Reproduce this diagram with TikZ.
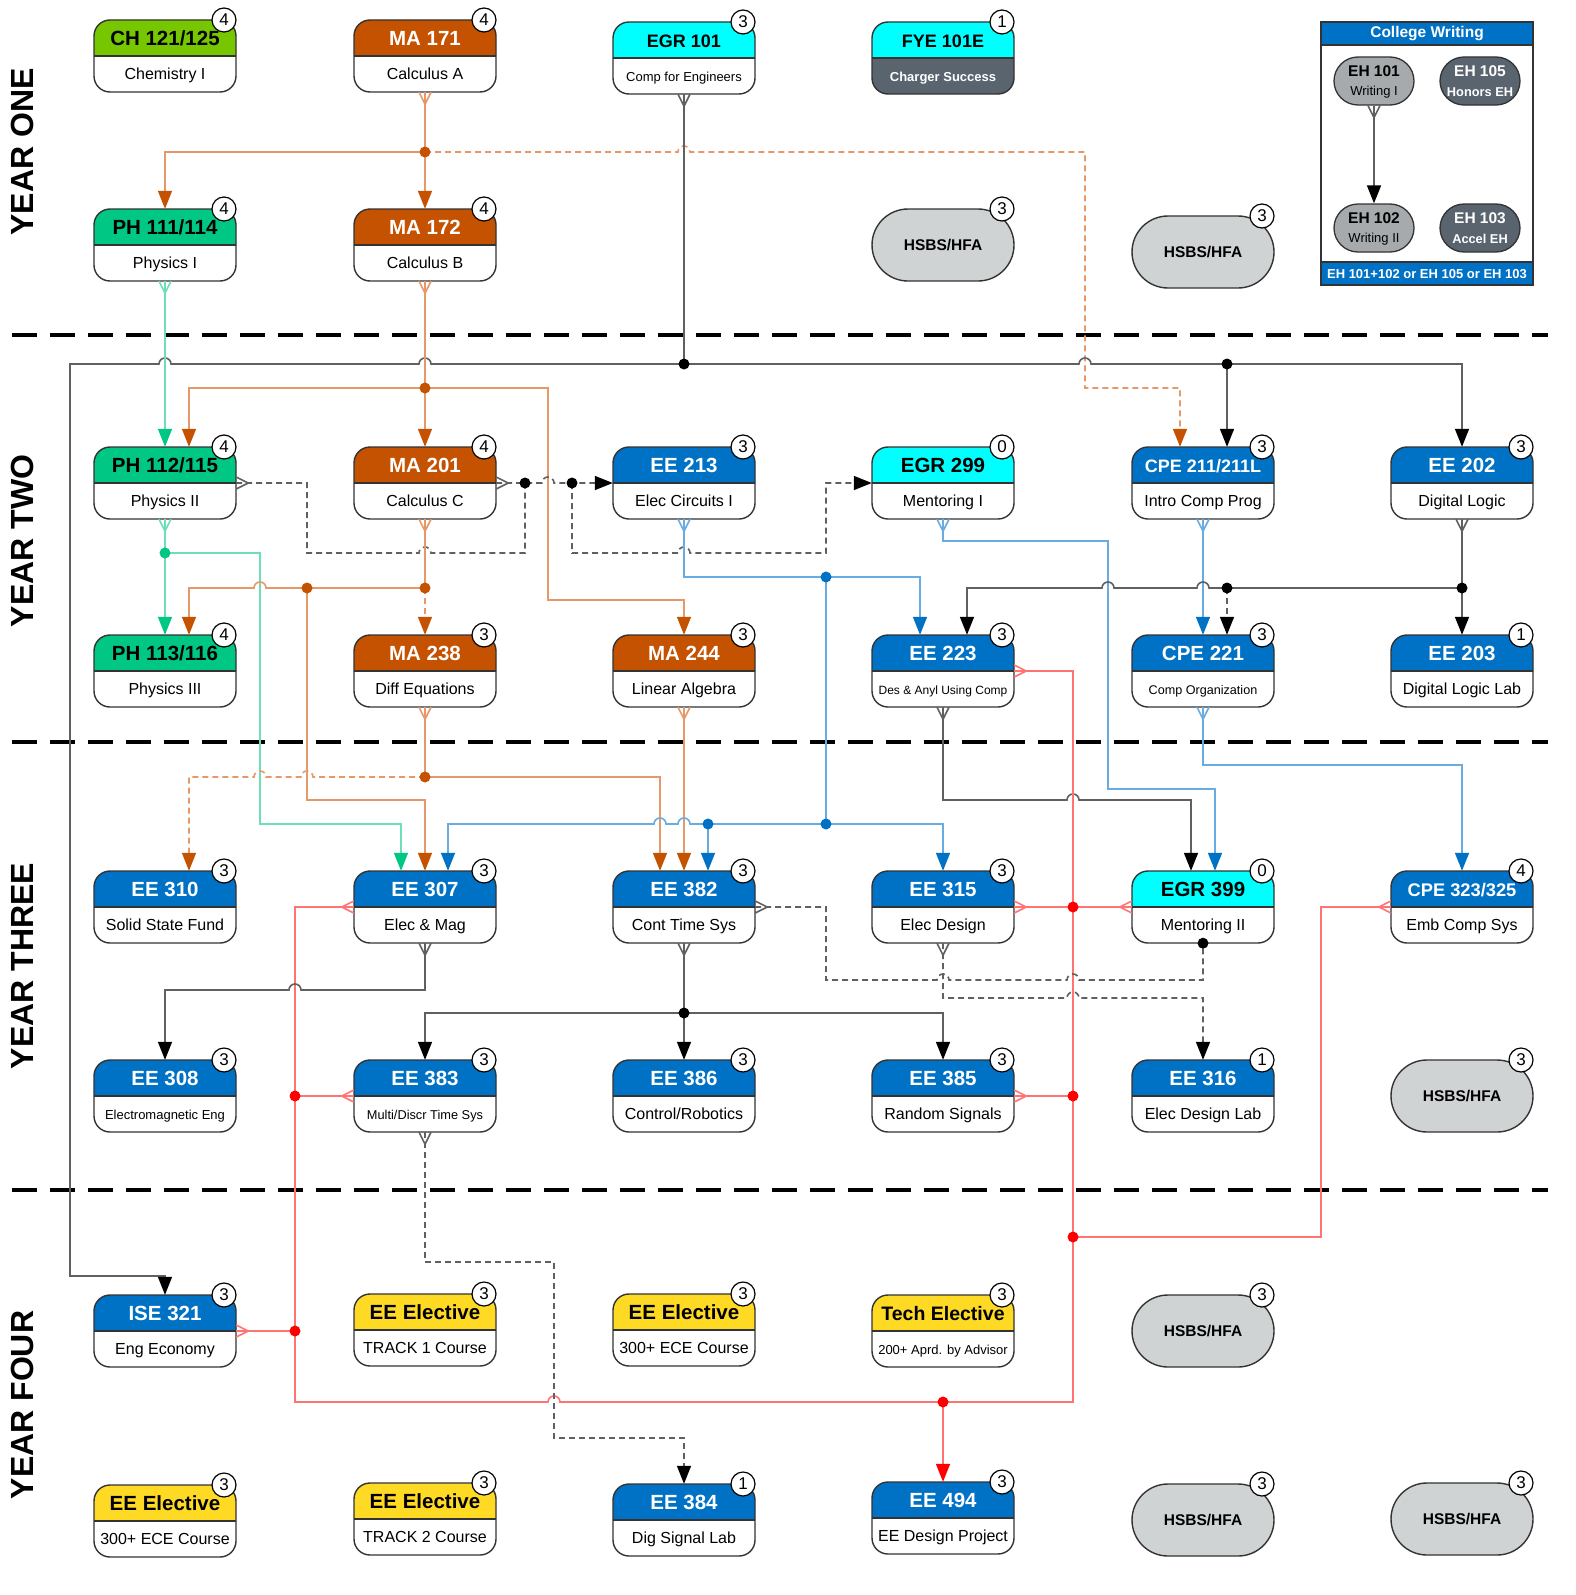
\documentclass[tikz,border=0pt]{standalone}
\usepackage{fontspec}
\setmainfont{Liberation Sans}
\usetikzlibrary{arrows.meta,shapes.misc}
\definecolor{chgreen}{RGB}{118,199,0}
\definecolor{phgreen}{RGB}{0,199,131}
\definecolor{maorange}{RGB}{197,82,0}
\definecolor{egrcyan}{RGB}{0,255,255}
\definecolor{eeblue}{RGB}{0,114,198}
\definecolor{elyellow}{RGB}{255,218,36}
\definecolor{fyegray}{RGB}{89,100,110}
\definecolor{hsbsgray}{RGB}{208,211,212}
\definecolor{ehgray}{RGB}{166,170,173}
\definecolor{orlight}{RGB}{230,152,105}
\definecolor{grlight}{RGB}{110,222,180}
\definecolor{bllight}{RGB}{105,172,226}
\definecolor{glight}{RGB}{96,96,96}
\definecolor{rlight}{RGB}{255,115,115}
\definecolor{rdot}{RGB}{255,0,0}
\tikzset{
  boxline/.style={draw=black!80, line width=1.4pt},
  boxanchor/.style={inner sep=0pt, minimum width=142pt, minimum height=72pt},
  titletext/.style={inner sep=0pt, text height=14.5pt, text depth=0pt, font=\bfseries\fontsize{20.5}{22}\selectfont},
  subtext/.style={inner sep=0pt, text height=11.5pt, text depth=0pt, font=\fontsize{16}{18}\selectfont},
  badge/.style={circle, draw=black, fill=white, line width=1.2pt, minimum size=24pt, inner sep=0pt, font=\fontsize{17}{17}\selectfont},
  divline/.style={draw=black, line width=3.5pt, dash pattern=on 25pt off 13pt},
  yearlabel/.style={rotate=90, font=\bfseries\fontsize{32}{36}\selectfont},
  orl/.style={draw=orlight, line width=1.6pt},
  grl/.style={draw=grlight, line width=1.6pt},
  bll/.style={draw=bllight, line width=1.6pt},
  gyl/.style={draw=glight, line width=1.6pt},
  rdl/.style={draw=rlight, line width=1.6pt},
  dsh/.style={dash pattern=on 6pt off 4pt},
  tor/.style={-{Triangle[length=18pt,width=14pt,color=maorange]}},
  tgr/.style={-{Triangle[length=18pt,width=14pt,color=phgreen]}},
  tbl/.style={-{Triangle[length=18pt,width=14pt,color=eeblue]}},
  tbk/.style={-{Triangle[length=18pt,width=14pt,color=black]}},
  trd/.style={-{Triangle[length=18pt,width=14pt,color=rdot]}},
  hsbsbox/.style={rounded rectangle, draw=black!80, line width=1.4pt, fill=hsbsgray, minimum width=142pt, minimum height=72pt, inner sep=0pt, font=\bfseries\fontsize{15.5}{17}\selectfont},
  ehbox/.style={rounded rectangle, draw=black!80, line width=1.3pt, minimum width=80pt, minimum height=48pt, inner sep=0pt},
}
\newcommand\hp{arc[start angle=180,end angle=0,radius=6pt]}
\newcommand\hpl{arc[start angle=0,end angle=180,radius=6pt]}
\newcommand\markd[2]{\draw[#2] (#1) ++(-6,0) -- ++(6,12) -- ++(6,-12);}
\newcommand\markr[2]{\draw[#2] (#1) ++(0,-6) -- ++(12,6) -- ++(-12,6);}
\newcommand\markl[2]{\draw[#2] (#1) ++(0,-6) -- ++(-12,6) -- ++(12,6);}
% #1 name #2 x #3 y #4 header #5 title colour #6 title #7 subtitle #8 credits #9 body
\newcommand\course[9]{%
  \begin{scope}
    \clip (#2-80,#3-45) rectangle (#2+80,#3);
    \fill[#4, rounded corners=16pt] (#2-71,#3-36) rectangle (#2+71,#3+36);
  \end{scope}
  \begin{scope}
    \clip (#2-80,#3) rectangle (#2+80,#3+45);
    \fill[#9, rounded corners=16pt] (#2-71,#3-36) rectangle (#2+71,#3+36);
  \end{scope}
  \draw[boxline, rounded corners=16pt] (#2-71,#3-36) rectangle (#2+71,#3+36);
  \draw[boxline] (#2-71,#3) -- (#2+71,#3);
  \node[boxanchor] (#1) at (#2,#3) {};
  \node[titletext, text=#5] at (#2,#3-18) {#6};
  \node[subtext] at (#2,#3+18) {#7};
  \node[badge] at (#2+59,#3-36) {#8};
}
\newcommand\hsbs[4]{%
  \node[hsbsbox] (#1) at (#2,#3) {HSBS/HFA};
  \node[badge] at (#2+59,#3-36) {#4};
}
\begin{document}
\begin{tikzpicture}[x=1pt,y=-1pt]
\useasboundingbox (0,0) rectangle (1575,1595);
\fill[white] (0,0) rectangle (1575,1595);
% dividers
\draw[divline] (12,335) -- (1548,335);
\draw[divline] (12,742) -- (1548,742);
\draw[divline] (12,1190) -- (1548,1190);
% year labels
\node[yearlabel] (y1) at (22,152) {YEAR ONE};
\node[yearlabel] (y2) at (22,541) {YEAR TWO};
\node[yearlabel] (y3) at (22,966) {YEAR THREE};
\node[yearlabel] (y4) at (22,1405) {YEAR FOUR};
% ---------- courses ----------
\course{ch121}{165}{56}{chgreen}{black}{CH 121/125}{Chemistry I}{4}{white}
\course{ma171}{425}{56}{maorange}{white}{MA 171}{Calculus A}{4}{white}
\course{egr101}{684}{58}{egrcyan}{black}{\fontsize{18}{20}\selectfont EGR 101}{\fontsize{13}{15}\selectfont Comp for Engineers}{3}{white}
\course{fye101}{943}{58}{egrcyan}{black}{\fontsize{18}{20}\selectfont FYE 101E}{\color{white}\bfseries\fontsize{13}{15}\selectfont Charger Success}{1}{fyegray}
\course{ph111}{165}{245}{phgreen}{black}{PH 111/114}{Physics I}{4}{white}
\course{ma172}{425}{245}{maorange}{white}{MA 172}{Calculus B}{4}{white}
\hsbs{hs1}{943}{245}{3}
\hsbs{hs2}{1203}{252}{3}
\course{ph112}{165}{483}{phgreen}{black}{PH 112/115}{Physics II}{4}{white}
\course{ma201}{425}{483}{maorange}{white}{MA 201}{Calculus C}{4}{white}
\course{ee213}{684}{483}{eeblue}{white}{EE 213}{Elec Circuits I}{3}{white}
\course{egr299}{943}{483}{egrcyan}{black}{EGR 299}{Mentoring I}{0}{white}
\course{cpe211}{1203}{483}{eeblue}{white}{\fontsize{18}{20}\selectfont CPE 211/211L}{Intro Comp Prog}{3}{white}
\course{ee202}{1462}{483}{eeblue}{white}{EE 202}{Digital Logic}{3}{white}
\course{ph113}{165}{671}{phgreen}{black}{PH 113/116}{Physics III}{4}{white}
\course{ma238}{425}{671}{maorange}{white}{MA 238}{Diff Equations}{3}{white}
\course{ma244}{684}{671}{maorange}{white}{MA 244}{Linear Algebra}{3}{white}
\course{ee223}{943}{671}{eeblue}{white}{EE 223}{\fontsize{12}{14}\selectfont Des \& Anyl Using Comp}{3}{white}
\course{cpe221}{1203}{671}{eeblue}{white}{CPE 221}{\fontsize{12.6}{14}\selectfont Comp Organization}{3}{white}
\course{ee203}{1462}{671}{eeblue}{white}{EE 203}{Digital Logic Lab}{1}{white}
\course{ee310}{165}{907}{eeblue}{white}{EE 310}{Solid State Fund}{3}{white}
\course{ee307}{425}{907}{eeblue}{white}{EE 307}{Elec \& Mag}{3}{white}
\course{ee382}{684}{907}{eeblue}{white}{EE 382}{Cont Time Sys}{3}{white}
\course{ee315}{943}{907}{eeblue}{white}{EE 315}{Elec Design}{3}{white}
\course{egr399}{1203}{907}{egrcyan}{black}{EGR 399}{Mentoring II}{0}{white}
\course{cpe323}{1462}{907}{eeblue}{white}{\fontsize{18.3}{20}\selectfont CPE 323/325}{Emb Comp Sys}{4}{white}
\course{ee308}{165}{1096}{eeblue}{white}{EE 308}{\fontsize{13}{15}\selectfont Electromagnetic Eng}{3}{white}
\course{ee383}{425}{1096}{eeblue}{white}{EE 383}{\fontsize{12.8}{15}\selectfont Multi/Discr Time Sys}{3}{white}
\course{ee386}{684}{1096}{eeblue}{white}{EE 386}{Control/Robotics}{3}{white}
\course{ee385}{943}{1096}{eeblue}{white}{EE 385}{Random Signals}{3}{white}
\course{ee316}{1203}{1096}{eeblue}{white}{EE 316}{Elec Design Lab}{1}{white}
\hsbs{hs3}{1462}{1096}{3}
\course{ise321}{165}{1331}{eeblue}{white}{ISE 321}{Eng Economy}{3}{white}
\course{el1}{425}{1330}{elyellow}{black}{EE Elective}{TRACK 1 Course}{3}{white}
\course{el2}{684}{1330}{elyellow}{black}{EE Elective}{300+ ECE Course}{3}{white}
\course{tech}{943}{1331}{elyellow}{black}{\fontsize{19.5}{21}\selectfont Tech Elective}{\fontsize{13}{15}\selectfont 200+ Aprd. by Advisor}{3}{white}
\hsbs{hs4}{1203}{1331}{3}
\course{el3}{165}{1521}{elyellow}{black}{EE Elective}{300+ ECE Course}{3}{white}
\course{el4}{425}{1519}{elyellow}{black}{EE Elective}{TRACK 2 Course}{3}{white}
\course{ee384}{684}{1520}{eeblue}{white}{EE 384}{Dig Signal Lab}{1}{white}
\course{ee494}{943}{1518}{eeblue}{white}{EE 494}{EE Design Project}{3}{white}
\hsbs{hs5}{1203}{1520}{3}
\hsbs{hs6}{1462}{1519}{3}
% ---------- College Writing ----------
\draw[boxline] (1321,22) rectangle (1533,285);
\fill[eeblue] (1321,22) rectangle (1533,45);
\fill[eeblue] (1321,262) rectangle (1533,285);
\draw[boxline] (1321,22) rectangle (1533,285);
\draw[boxline] (1321,45) -- (1533,45);
\draw[boxline] (1321,262) -- (1533,262);
\node[text=white, font=\bfseries\fontsize{15.5}{17}\selectfont] (cwt) at (1427,34) {College Writing};
\node[text=white, font=\bfseries\fontsize{13}{15}\selectfont] (cwb) at (1427,274) {EH 101+102 or EH 105 or EH 103};
\node[ehbox, fill=ehgray] (eh101) at (1374,81) {};
\node[ehbox, fill=fyegray] (eh105) at (1480,81) {};
\node[ehbox, fill=ehgray] (eh102) at (1374,228) {};
\node[ehbox, fill=fyegray] (eh103) at (1480,228) {};
\node[font=\bfseries\fontsize{15.5}{17}\selectfont] at (1374,71) {EH 101};
\node[font=\fontsize{13}{15}\selectfont] at (1374,92) {Writing I};
\node[font=\bfseries\fontsize{15.5}{17}\selectfont] at (1374,218) {EH 102};
\node[font=\fontsize{13}{15}\selectfont] at (1374,239) {Writing II};
\node[text=white, font=\bfseries\fontsize{15.5}{17}\selectfont] at (1480,71) {EH 105};
\node[text=white, font=\bfseries\fontsize{12.8}{15}\selectfont] at (1480,92) {Honors EH};
\node[text=white, font=\bfseries\fontsize{15.5}{17}\selectfont] at (1480,218) {EH 103};
\node[text=white, font=\bfseries\fontsize{12.8}{15}\selectfont] at (1480,239) {Accel EH};
\markd{eh101.south}{gyl}
\draw[gyl,tbk] (eh101.south) -- (eh102.north);
% ---------- connectors ----------
% MA 171
\markd{ma171.south}{orl}
\draw[orl,tor] (ma171.south) -- (ma172.north);
\draw[orl,tor] (425,152) -- (165,152) -- (ph111.north);
\draw[orl,dsh,tor] (425,152) -- (678,152) \hp -- (1085,152) -- (1085,388) -- (1180,388) -- ([xshift=-23pt]cpe211.north);
% EGR 101 bus
\markd{egr101.south}{gyl}
\draw[gyl] (egr101.south) -- (684,364);
\draw[gyl,tbk] (684,364) -- (1079,364) \hp -- (1462,364) -- (ee202.north);
\draw[gyl,tbk] (684,364) -- (431,364) \hpl -- (171,364) \hpl -- (70,364) -- (70,1276) -- (165,1276) -- (ise321.north);
\draw[gyl,tbk] (1227,364) -- ([xshift=24pt]cpe211.north);
% PH 111
\markd{ph111.south}{grl}
\draw[grl,tgr] (ph111.south) -- (ph112.north);
% MA 172
\markd{ma172.south}{orl}
\draw[orl,tor] (ma172.south) -- (ma201.north);
\draw[orl,tor] (425,388) -- (189,388) -- ([xshift=24pt]ph112.north);
\draw[orl,tor] (425,388) -- (548,388) -- (548,600) -- (684,600) -- (ma244.north);
% coreq dashed PH112 / MA201
\markr{ph112.east}{gyl}
\draw[gyl,dsh] (ph112.east) -- (307,483) -- (307,553) -- (419,553) \hp -- (525,553) -- (525,483);
\markr{ma201.east}{gyl}
\draw[gyl,dsh,tbk] (ma201.east) -- (542,483) \hp -- (ee213.west);
\draw[gyl,dsh,tbk] (572,483) -- (572,553) -- (678,553) \hp -- (826,553) -- (826,483) -- (egr299.west);
% PH 112
\markd{ph112.south}{grl}
\draw[grl,tgr] (ph112.south) -- (ph113.north);
\draw[grl,tgr] (165,553) -- (260,553) -- (260,824) -- (401,824) -- ([xshift=-24pt]ee307.north);
% MA 201
\markd{ma201.south}{orl}
\draw[orl] (ma201.south) -- (425,588);
\draw[orl,dsh,tor] (425,588) -- (ma238.north);
\draw[orl,tor] (425,588) -- (266,588) \hpl -- (189,588) -- ([xshift=24pt]ph113.north);
\draw[orl,tor] (307,588) -- (307,800) -- (425,800) -- (ee307.north);
% MA 238
\markd{ma238.south}{orl}
\draw[orl] (ma238.south) -- (425,777);
\draw[orl,dsh,tor] (425,777) -- (313,777) \hpl -- (266,777) \hpl -- (189,777) -- ([xshift=24pt]ee310.north);
\draw[orl,tor] (425,777) -- (660,777) -- ([xshift=-24pt]ee382.north);
% MA 244
\markd{ma244.south}{orl}
\draw[orl,tor] (ma244.south) -- (ee382.north);
% EE 213
\markd{ee213.south}{bll}
\draw[bll,tbl] (ee213.south) -- (684,577) -- (920,577) -- ([xshift=-23pt]ee223.north);
\draw[bll] (826,577) -- (826,824);
\draw[bll,tbl] (826,824) -- (690,824) \hpl -- (666,824) \hpl -- (448,824) -- ([xshift=23pt]ee307.north);
\draw[bll,tbl] (708,824) -- ([xshift=24pt]ee382.north);
\draw[bll,tbl] (826,824) -- (943,824) -- (ee315.north);
% EGR 299
\markd{egr299.south}{bll}
\draw[bll,tbl] (egr299.south) -- (943,541) -- (1108,541) -- (1108,789) -- (1215,789) -- ([xshift=12pt]egr399.north);
% CPE 211
\markd{cpe211.south}{bll}
\draw[bll,tbl] (cpe211.south) -- (cpe221.north);
% EE 202
\markd{ee202.south}{gyl}
\draw[gyl,tbk] (ee202.south) -- (ee203.north);
\draw[gyl,tbk] (1462,588) -- (1209,588) \hpl -- (1114,588) \hpl -- (967,588) -- ([xshift=24pt]ee223.north);
\draw[gyl,dsh,tbk] (1227,588) -- ([xshift=24pt]cpe221.north);
% EE 223
\markd{ee223.south}{gyl}
\draw[gyl,tbk] (ee223.south) -- (943,800) -- (1067,800) \hp -- (1191,800) -- ([xshift=-12pt]egr399.north);
% CPE 221
\markd{cpe221.south}{bll}
\draw[bll,tbl] (cpe221.south) -- (1203,765) -- (1462,765) -- (cpe323.north);
% red bus
\markr{ee223.east}{rdl}
\draw[rdl] (ee223.east) -- (1073,671) -- (1073,1402) -- (560,1402) \hpl -- (295,1402) -- (295,907) -- (ee307.west);
\markl{ee307.west}{rdl}
\markr{ee315.east}{rdl}
\draw[rdl] (ee315.east) -- (1073,907);
\markl{egr399.west}{rdl}
\draw[rdl] (egr399.west) -- (1073,907);
\markr{ee385.east}{rdl}
\draw[rdl] (ee385.east) -- (1073,1096);
\markl{cpe323.west}{rdl}
\draw[rdl] (cpe323.west) -- (1321,907) -- (1321,1237) -- (1073,1237);
\markl{ee383.west}{rdl}
\draw[rdl] (ee383.west) -- (295,1096);
\markr{ise321.east}{rdl}
\draw[rdl] (ise321.east) -- (295,1331);
\draw[rdl,trd] (943,1402) -- (ee494.north);
% EE 307
\markd{ee307.south}{gyl}
\draw[gyl,tbk] (ee307.south) -- (425,990) -- (301,990) \hpl -- (165,990) -- (ee308.north);
% EE 382
\markd{ee382.south}{gyl}
\draw[gyl,tbk] (ee382.south) -- (ee386.north);
\draw[gyl,tbk] (684,1013) -- (425,1013) -- (ee383.north);
\draw[gyl,tbk] (684,1013) -- (943,1013) -- (ee385.north);
\markr{ee382.east}{gyl}
\draw[gyl,dsh] (ee382.east) -- (826,907) -- (826,980) -- (937,980) \hp -- (1067,980) \hp -- (1203,980) -- (egr399.south);
% EE 315
\markd{ee315.south}{gyl}
\draw[gyl,dsh,tbk] (ee315.south) -- (943,998) -- (1067,998) \hp -- (1203,998) -- (ee316.north);
% EE 383
\markd{ee383.south}{gyl}
\draw[gyl,dsh,tbk] (ee383.south) -- (425,1262) -- (554,1262) -- (554,1438) -- (684,1438) -- (ee384.north);
% ---------- dots ----------
\fill[maorange] (425,152) circle[radius=5.5pt];
\fill[maorange] (425,388) circle[radius=5.5pt];
\fill[maorange] (425,588) circle[radius=5.5pt];
\fill[maorange] (307,588) circle[radius=5.5pt];
\fill[maorange] (425,777) circle[radius=5.5pt];
\fill[phgreen] (165,553) circle[radius=5.5pt];
\fill[black] (684,364) circle[radius=5.5pt];
\fill[black] (1227,364) circle[radius=5.5pt];
\fill[black] (525,483) circle[radius=5.5pt];
\fill[black] (572,483) circle[radius=5.5pt];
\fill[black] (1462,588) circle[radius=5.5pt];
\fill[black] (1227,588) circle[radius=5.5pt];
\fill[black] (684,1013) circle[radius=5.5pt];
\fill[black] (egr399.south) circle[radius=5.5pt];
\fill[eeblue] (826,577) circle[radius=5.5pt];
\fill[eeblue] (826,824) circle[radius=5.5pt];
\fill[eeblue] (708,824) circle[radius=5.5pt];
\fill[rdot] (1073,907) circle[radius=5.5pt];
\fill[rdot] (1073,1096) circle[radius=5.5pt];
\fill[rdot] (1073,1237) circle[radius=5.5pt];
\fill[rdot] (295,1096) circle[radius=5.5pt];
\fill[rdot] (295,1331) circle[radius=5.5pt];
\fill[rdot] (943,1402) circle[radius=5.5pt];
\end{tikzpicture}
\end{document}
